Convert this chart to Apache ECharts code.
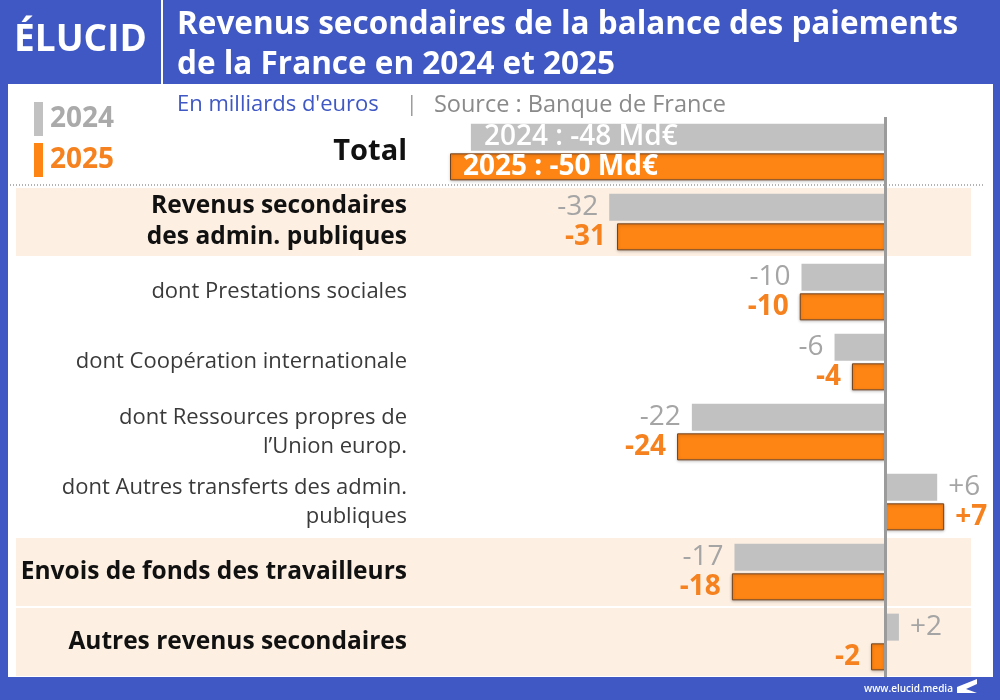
<!DOCTYPE html>
<html>
<head>
<meta charset="utf-8">
<script src="https://cdn.jsdelivr.net/npm/echarts@6/dist/echarts.min.js"></script>
<style>
  html, body { margin: 0; padding: 0; background: #fff; }
  #chart { width: 1000px; height: 700px; }
</style>
</head>
<body>
<div id="chart"></div>
<script>
// categories top to bottom, '\n' = line break in the label
var categories = [
  'Total',
  'Revenus secondaires\ndes admin. publiques',
  'dont Prestations sociales',
  'dont Coopération internationale',
  'dont Ressources propres de\nl\u2019Union europ.',
  'dont Autres transferts des admin.\npubliques',
  'Envois de fonds des travailleurs',
  'Autres revenus secondaires'
];
// label style per category: t = total, m = main row, d = "dont" row
var catStyle = ['t', 'm', 'd', 'd', 'd', 'd', 'm', 'm'];
var highlighted = [1, 6, 7];   // rows with peach background

var years = ['2024', '2025'];
var v2024 = [-47.6, -31.7, -9.6, -5.8, -22.2, 6.0, -17.3, 1.6];
var v2025 = [-50.0, -30.8, -9.8, -3.8, -23.9, 6.8, -17.6, -1.6];

var BLUE = '#3f58c4';
var GREY = '#c1c1c1';
var ORANGE = '#fe8413';
var FONT = 'Open Sans';

function fmt(v) {
  var r = Math.round(Math.abs(v));
  return (v < 0 ? '-' : '+') + r;
}

function buildData(values, year) {
  return values.map(function (v, i) {
    if (i === 0) {
      return {
        value: v,
        label: {
          position: 'insideLeft',
          distance: 13,
          color: '#fff',
          fontSize: 28,
          fontWeight: year === '2024' ? 600 : 'bold',
          formatter: year + ' : ' + fmt(v) + ' Md\u20ac'
        }
      };
    }
    return v;
  });
}

var chart = echarts.init(document.getElementById('chart'));

var option = {
  backgroundColor: '#fff',
  textStyle: { fontFamily: FONT },
  animation: false,
  title: [
    {
      text: 'Revenus secondaires de la balance des paiements\nde la France en 2024 et 2025',
      left: 172,
      top: 0,
      z: 20,
      textStyle: { color: '#fff', fontSize: 31.5, fontWeight: 'bold', lineHeight: 40, fontFamily: FONT }
    },
    {
      text: '{a|En milliards d\'euros}{s|     |   }{b|Source : Banque de France}',
      left: 172,
      top: 88,
      textStyle: {
        fontWeight: 'normal',
        rich: {
          a: { color: BLUE, fontSize: 22, fontWeight: 'normal', fontFamily: FONT },
          s: { color: '#999', fontSize: 21, fontWeight: 'normal', fontFamily: FONT },
          b: { color: '#8a8a8a', fontSize: 23.5, fontWeight: 'normal', fontFamily: FONT }
        }
      }
    }
  ],
  legend: {
    data: years,
    orient: 'vertical',
    left: 29,
    top: 97,
    icon: 'rect',
    itemWidth: 9,
    itemHeight: 34,
    itemGap: 7,
    itemStyle: { borderWidth: 0, shadowBlur: 0 },
    formatter: function (name) {
      return '{' + (name === '2024' ? 'a' : 'b') + '|' + name + '}';
    },
    textStyle: {
      rich: {
        a: { color: '#aaaaaa', fontSize: 28, fontWeight: 'bold', padding: [0, 0, 0, 2], fontFamily: FONT },
        b: { color: '#f5821f', fontSize: 28, fontWeight: 'bold', padding: [0, 0, 0, 2], fontFamily: FONT }
      }
    }
  },
  grid: { left: 15, right: 28, top: 117, height: 560 },
  xAxis: {
    type: 'value',
    min: -100,
    max: 10,
    show: false
  },
  yAxis: {
    type: 'category',
    inverse: true,
    z: 5,
    data: categories,
    axisLine: { show: false, onZero: false },
    axisTick: { show: false },
    splitLine: { show: false },
    axisLabel: {
      margin: -392,
      align: 'right',
      interval: 0,
      formatter: function (value, idx) {
        var k = catStyle[idx];
        return value.split('\n').map(function (l) { return '{' + k + '|' + l + '}'; }).join('\n');
      },
      rich: {
        t: { fontSize: 29, fontWeight: 'bold', color: '#111', fontFamily: FONT },
        m: { fontSize: 24.5, fontWeight: 'bold', color: '#111', lineHeight: 31, fontFamily: FONT },
        d: { fontSize: 22, color: '#3a3a3a', lineHeight: 29, fontFamily: FONT }
      }
    }
  },
  graphic: [
    { type: 'rect', left: 0, top: 0, shape: { width: 1000, height: 84 }, style: { fill: BLUE }, z: 1 },
    { type: 'line', shape: { x1: 162, y1: 0, x2: 162, y2: 84 }, style: { stroke: '#fff', lineWidth: 2 }, z: 2 },
    { type: 'text', left: 14, top: 22, style: { text: '\u00c9LUCID', fill: '#fff', font: 'bold 37px "' + FONT + '"' }, z: 2 },
    { type: 'rect', left: 0, top: 0, shape: { width: 8, height: 700 }, style: { fill: BLUE }, z: 10 },
    { type: 'rect', left: 993, top: 0, shape: { width: 7, height: 700 }, style: { fill: BLUE }, z: 10 },
    { type: 'rect', left: 0, top: 677, shape: { width: 1000, height: 23 }, style: { fill: BLUE }, z: 10 },
    { type: 'text', left: 864, top: 684, style: { text: 'www.elucid.media', fill: '#fff', font: '600 10px "' + FONT + '"' }, z: 11 },
    { type: 'polygon', shape: { points: [[957, 687], [977, 679], [977, 684], [966, 689], [977, 693], [957, 693]] }, style: { fill: '#fff' }, z: 11 },
    { type: 'line', shape: { x1: 10, y1: 185, x2: 985, y2: 185 }, style: { stroke: '#999', lineWidth: 1.5, lineDash: [1, 2] }, z: 5 }
  ],
  series: [
    {
      name: '2024',
      type: 'bar',
      barWidth: 27,
      barGap: '10%',
      data: buildData(v2024, '2024'),
      itemStyle: { color: GREY },
      label: {
        show: true,
        position: 'outside',
        distance: 11,
        color: '#a5a5a5',
        fontSize: 28,
        fontFamily: FONT,
        formatter: function (p) { return fmt(p.value); }
      },
      markLine: {
        silent: true,
        symbol: 'none',
        label: { show: false },
        lineStyle: { color: '#9b9b9b', width: 3, type: 'solid' },
        data: [{ xAxis: 0 }],
        z: 6
      },
      markArea: {
        silent: true,
        itemStyle: { color: '#fdefe2', borderColor: '#fff', borderWidth: 2 },
        data: highlighted.map(function (i) {
          return [{ yAxis: categories[i] }, { yAxis: categories[i] }];
        })
      }
    },
    {
      name: '2025',
      type: 'bar',
      barWidth: 27,
      data: buildData(v2025, '2025'),
      itemStyle: {
        color: ORANGE,
        borderColor: '#6e4220',
        borderWidth: 1,
        shadowColor: 'rgba(0,0,0,0.25)',
        shadowBlur: 3,
        shadowOffsetY: 1
      },
      label: {
        show: true,
        position: 'outside',
        distance: 11,
        color: '#f5821f',
        fontSize: 28,
        fontWeight: 'bold',
        fontFamily: FONT,
        formatter: function (p) { return fmt(p.value); }
      }
    }
  ]
};

chart.setOption(option);
</script>
</body>
</html>
